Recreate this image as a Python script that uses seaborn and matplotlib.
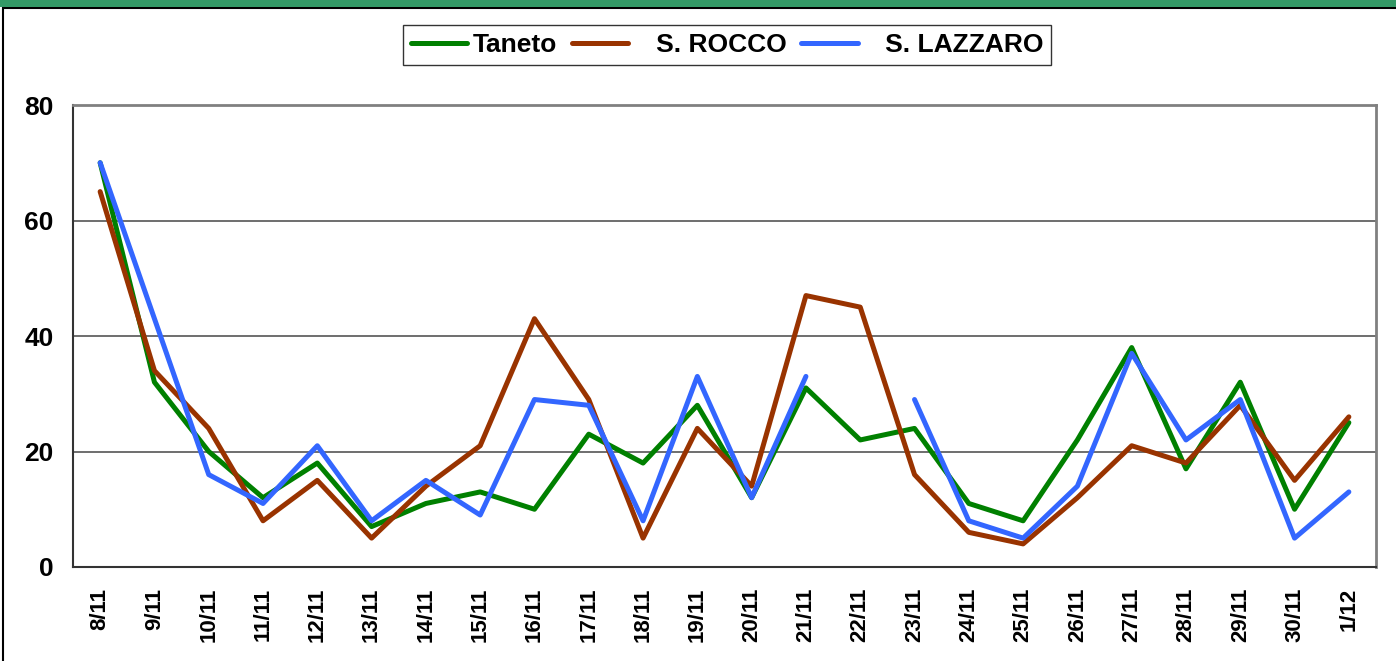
import numpy as np
import pandas as pd
import matplotlib
matplotlib.use('Agg')
import matplotlib.pyplot as plt
from matplotlib.patches import Rectangle
import seaborn as sns

sns.set_style('white')
plt.rcParams['font.family'] = ['Liberation Sans', 'DejaVu Sans']
plt.rcParams['font.weight'] = 'bold'
plt.rcParams['text.color'] = 'black'
plt.rcParams['xtick.labelcolor'] = 'black'
plt.rcParams['ytick.labelcolor'] = 'black'

# data
days = ['8/11', '9/11', '10/11', '11/11', '12/11', '13/11', '14/11', '15/11',
        '16/11', '17/11', '18/11', '19/11', '20/11', '21/11', '22/11', '23/11',
        '24/11', '25/11', '26/11', '27/11', '28/11', '29/11', '30/11', '1/12']
taneto = [70, 32, 20, 12, 18, 7, 11, 13, 10, 23, 18, 28, 12, 31, 22, 24,
          11, 8, 22, 38, 17, 32, 10, 25]
s_rocco = [65, 34, 24, 8, 15, 5, 14, 21, 43, 29, 5, 24, 14, 47, 45, 16,
           6, 4, 12, 21, 18, 28, 15, 26]
s_lazzaro = [70, 43, 16, 11, 21, 8, 15, 9, 29, 28, 8, 33, 12, 33, np.nan, 29,
             8, 5, 14, 37, 22, 29, 5, 13]

series = {'Taneto': taneto, '   S. ROCCO': s_rocco, '   S. LAZZARO': s_lazzaro}
colors = {'Taneto': '#008000', '   S. ROCCO': '#993300', '   S. LAZZARO': '#3366FF'}

# long form; a gap (NaN) starts a new segment so the line is broken there
rows = []
for name, vals in series.items():
    seg = 0
    for i, v in enumerate(vals):
        if pd.isna(v):
            seg += 1
            continue
        rows.append({'pos': i, 'val': v, 'serie': name, 'seg': seg})
df = pd.DataFrame(rows)

fig = plt.figure(figsize=(13.96, 6.61), dpi=100)
ax = fig.add_axes([73 / 1396, 1 - 567 / 661, (1376 - 73) / 1396, (567 - 105) / 661])

sns.lineplot(data=df, x='pos', y='val', hue='serie', units='seg', estimator=None,
             palette=colors, hue_order=list(series.keys()), lw=3.6, ax=ax,
             solid_capstyle='round')

ax.set_xlim(-0.5, len(days) - 0.5)
ax.set_ylim(0, 80)
ax.set_yticks([0, 20, 40, 60, 80])
ax.set_yticklabels(['0', '20', '40', '60', '80'], fontsize=19, fontweight='bold')
ax.yaxis.grid(True, color='#555555', lw=1.2)
ax.set_axisbelow(True)

ax.set_xticks(range(len(days)))
ax.set_xticklabels(days, rotation=90, fontsize=16, fontweight='bold')
ax.set_xticks(np.arange(-0.5, len(days), 1), minor=True)
ax.tick_params(axis='x', which='major', length=0, pad=15)
ax.tick_params(axis='x', which='minor', length=7, width=1.2, color='#333333', direction='out')
ax.tick_params(axis='y', length=7, width=1.2, color='#333333', direction='out', pad=7)
ax.set_xlabel('')
ax.set_ylabel('')

for side in ['left', 'bottom']:
    ax.spines[side].set_color('#333333')
    ax.spines[side].set_linewidth(1.5)
for side in ['right', 'top']:
    ax.spines[side].set_color('#808080')
    ax.spines[side].set_linewidth(2)

handles, labels = ax.get_legend_handles_labels()
ax.get_legend().remove()
fig.legend(handles, labels, loc='center', bbox_to_anchor=(727 / 1396, 1 - 45 / 661),
           ncol=3, frameon=True, fancybox=False, edgecolor='black',
           prop={'weight': 'bold', 'size': 19}, handlelength=2.15, handletextpad=0.2,
           columnspacing=0.55, borderpad=0.3, borderaxespad=0)

# outer chart frame and top banner
fig.add_artist(Rectangle((3 / 1396, -0.1), 1.2, 1 - 8 / 661 + 0.1, fill=False,
                         edgecolor='black', lw=1.5, transform=fig.transFigure))
fig.add_artist(Rectangle((0, 1 - 7 / 661), 1, 7 / 661, facecolor='#339966',
                         edgecolor='none', transform=fig.transFigure))

fig.savefig('out.png', dpi=100)
